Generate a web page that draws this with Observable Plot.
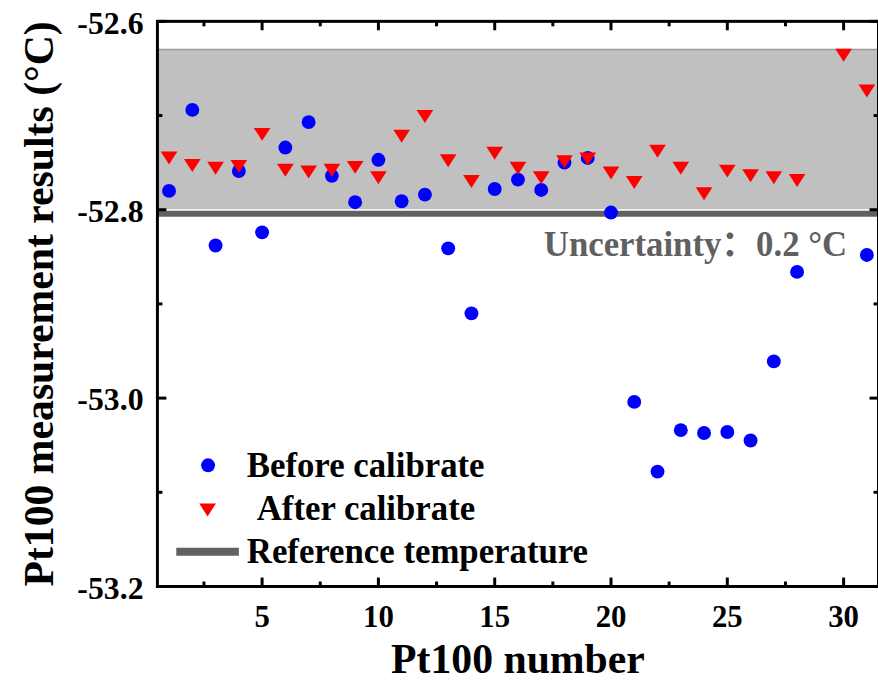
<!DOCTYPE html>
<html>
<head>
<meta charset="utf-8">
<script src="https://cdn.jsdelivr.net/npm/d3@7"></script>
<script src="https://cdn.jsdelivr.net/npm/@observablehq/plot@0.6"></script>
<style>
  html, body { margin: 0; padding: 0; background: #fff; overflow: hidden; }
  #chart svg { display: block; }
</style>
</head>
<body>
<div id="chart"></div>
<script>
// Pt100 numbers
const pt = d3.range(1, 32);
// Before calibrate (°C); null = not shown
const before = [-52.780, -52.694, -52.838, -52.759, -52.824, -52.734, -52.707, -52.764, -52.792, -52.747,
  -52.791, -52.784, -52.841, -52.910, -52.778, -52.768, -52.779, -52.750, -52.745, -52.803,
  -53.004, -53.078, -53.034, -53.037, -53.036, -53.045, -52.961, -52.866, null, null, -52.848];
// After calibrate (°C)
const after = [-52.745, -52.753, -52.756, -52.754, -52.720, -52.758, -52.760, -52.758, -52.755, -52.766,
  -52.722, -52.701, -52.748, -52.770, -52.740, -52.756, -52.766, -52.749, -52.746, -52.761,
  -52.771, -52.738, -52.756, -52.783, -52.759, -52.764, -52.766, -52.769, null, -52.636, -52.674];
const refTemp = -52.8;
const bandTop = -52.63;
const xMajor = [5, 10, 15, 20, 25, 30];
const xMinor = [2.5, 7.5, 12.5, 17.5, 22.5, 27.5];
const yMajor = [-53.2, -53.0, -52.8, -52.6];
const yMinor = [-53.1, -52.9, -52.7];
const yTickLabels = ["-53.2", "-53.0", "-52.8", "-52.6"];
const legendLabels = ["Before calibrate", "After calibrate", "Reference temperature"];
const xTitle = "Pt100 number";
const yTitle = "Pt100 measurement results (°C)";
const uncertaintyLabel = "Uncertainty：0.2 °C";

const beforeData = pt.map((p, i) => ({p, v: before[i]})).filter(d => d.v != null);
const afterData = pt.map((p, i) => ({p, v: after[i]})).filter(d => d.v != null);

const FONT = "'Liberation Serif', 'Times New Roman', 'Noto Sans CJK SC', serif";
const GRAY = "#606060";

const triDown = {
  draw(ctx, size) {
    const r = Math.sqrt(size / Math.PI);
    const hw = r * 1.2, hh = r * 0.93;
    ctx.moveTo(-hw, -hh);
    ctx.lineTo(hw, -hh);
    ctx.lineTo(0, hh);
    ctx.closePath();
  }
};
const barSym = {
  draw(ctx, size) {
    ctx.rect(-31.5, -4, 63, 8);
  }
};
const tickShape = {
  draw(ctx, l) {
    ctx.moveTo(0, 0);
    ctx.lineTo(0, -l);
  }
};
const tickOpts = {shape: tickShape, anchor: "start", stroke: "black", strokeWidth: 3, strokeLinecap: "butt"};

const chart = Plot.plot({
  width: 884,
  height: 681,
  marginLeft: 158,
  marginRight: 0,
  marginTop: 21,
  marginBottom: 91,
  style: {fontFamily: FONT, fontWeight: "bold", background: "#fff", overflow: "visible"},
  x: {domain: [0.5, 31.5], axis: null},
  y: {domain: [-53.2, -52.6], axis: null},
  marks: [
    // uncertainty band
    Plot.rect([bandTop], {y1: refTemp, y2: d => d, fill: "#c0c0c0"}),
    Plot.ruleY([bandTop], {stroke: "#9a9a9a", strokeWidth: 1.5}),
    // reference line
    Plot.ruleY([refTemp], {stroke: GRAY, strokeWidth: 6, dy: 4}),
    // points
    Plot.dot(beforeData, {x: "p", y: "v", r: 7, fill: "#0000ff"}),
    Plot.dot(afterData, {x: "p", y: "v", r: 7, fill: "#ff0000", symbol: triDown}),
    // inward ticks
    Plot.vector(xMajor, {x: d => d, frameAnchor: "bottom", rotate: 0, length: 9, ...tickOpts}),
    Plot.vector(xMinor, {x: d => d, frameAnchor: "bottom", rotate: 0, length: 5, ...tickOpts}),
    Plot.vector(xMajor, {x: d => d, frameAnchor: "top", rotate: 180, length: 9, ...tickOpts}),
    Plot.vector(xMinor, {x: d => d, frameAnchor: "top", rotate: 180, length: 5, ...tickOpts}),
    Plot.vector(yMajor, {y: d => d, frameAnchor: "left", rotate: 90, length: 9, ...tickOpts}),
    Plot.vector(yMinor, {y: d => d, frameAnchor: "left", rotate: 90, length: 5, ...tickOpts}),
    Plot.vector(yMajor, {y: d => d, frameAnchor: "right", rotate: -90, length: 9, ...tickOpts}),
    Plot.vector(yMinor, {y: d => d, frameAnchor: "right", rotate: -90, length: 5, ...tickOpts}),
    // tick labels
    Plot.axisX(xMajor, {anchor: "bottom", tickSize: 0, tickPadding: 19, fontSize: 31, fontWeight: "bold", label: null, tickFormat: d => String(d)}),
    Plot.axisY(yMajor, {anchor: "left", tickSize: 0, tickPadding: 14, dy: 2, fontSize: 32, fontWeight: "bold", label: null, tickFormat: (d, i) => yTickLabels[i]}),
    Plot.frame({stroke: "black", strokeWidth: 3}),
    // uncertainty text
    Plot.text([uncertaintyLabel], {text: d => d, frameAnchor: "top-left", dx: 389, dy: 236, textAnchor: "start", lineAnchor: "bottom", fill: GRAY, fontSize: 35, fontWeight: "bold"}),
    // legend
    Plot.dot([legendLabels[0]], {frameAnchor: "bottom-left", dx: 51, dy: -122, r: 7, fill: "#0000ff"}),
    Plot.dot([legendLabels[1]], {frameAnchor: "bottom-left", dx: 50.5, dy: -77, r: 7, fill: "#ff0000", symbol: triDown}),
    Plot.dot([legendLabels[2]], {frameAnchor: "bottom-left", dx: 50.5, dy: -35, r: 7, fill: GRAY, symbol: barSym}),
    Plot.text([legendLabels[0]], {text: d => d, frameAnchor: "bottom-left", dx: 90, dy: -110, textAnchor: "start", lineAnchor: "bottom", fontSize: 35, fontWeight: "bold", fill: "black"}),
    Plot.text([legendLabels[1]], {text: d => d, frameAnchor: "bottom-left", dx: 100, dy: -66.5, textAnchor: "start", lineAnchor: "bottom", fontSize: 35, fontWeight: "bold", fill: "black"}),
    Plot.text([legendLabels[2]], {text: d => d, frameAnchor: "bottom-left", dx: 90, dy: -23.5, textAnchor: "start", lineAnchor: "bottom", fontSize: 35, fontWeight: "bold", fill: "black"}),
    // axis titles
    Plot.text([xTitle], {text: d => d, frameAnchor: "bottom", dy: 87, textAnchor: "middle", lineAnchor: "bottom", fontSize: 42, fontWeight: "bold", fill: "black"}),
    Plot.text([yTitle], {text: d => d, frameAnchor: "left", rotate: -90, dx: -105, textAnchor: "middle", lineAnchor: "bottom", fontSize: 42, fontWeight: "bold", fill: "black"})
  ]
});
document.getElementById("chart").appendChild(chart);
</script>
</body>
</html>
